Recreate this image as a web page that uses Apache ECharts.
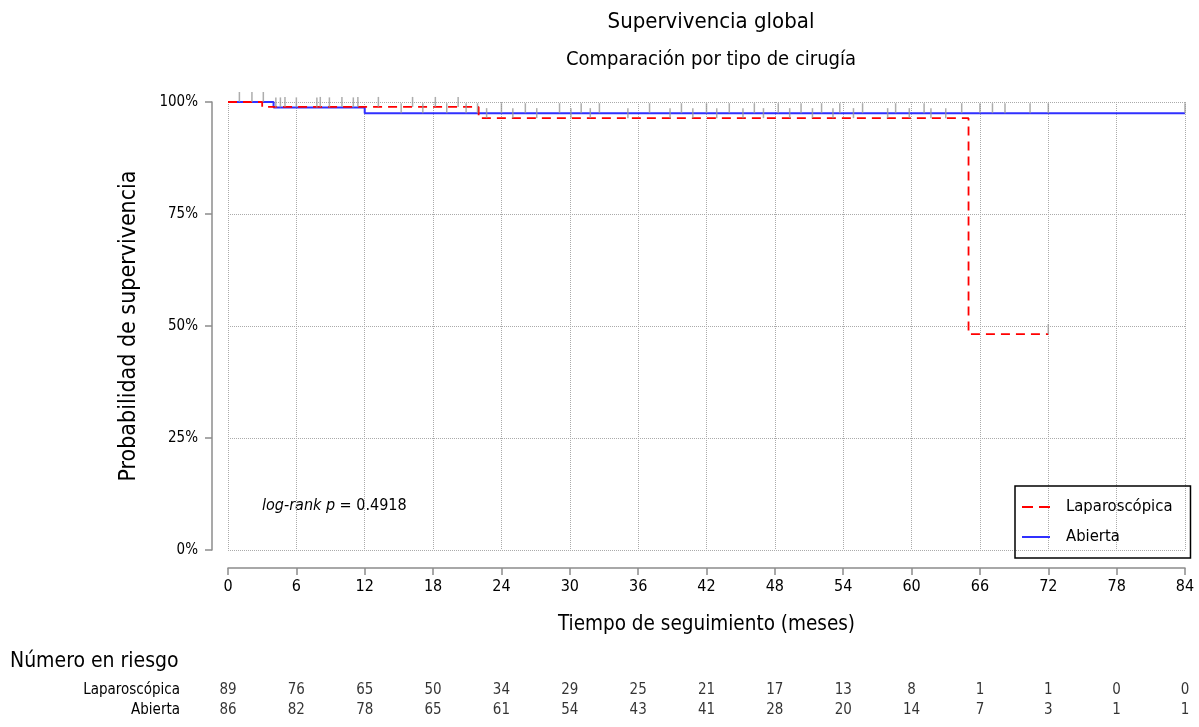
<!DOCTYPE html>
<html>
<head>
<meta charset="utf-8">
<script src="https://cdn.jsdelivr.net/npm/echarts@6/dist/echarts.min.js"></script>
<style>html,body{margin:0;padding:0;background:#fff}#c{width:1199px;height:727px}</style>
</head>
<body>
<div id="c"></div>
<script>
// ---- data ----
const groups = ['Laparoscópica', 'Abierta'];
const lapTimes = [0, 3, 22, 65, 72];
const lapSurv = [100, 98.9, 96.4, 48.2, 48.2];
const abTimes = [0, 4, 12, 84];
const abSurv = [100, 98.8, 97.5, 97.5];
const lapCensor = [1.0, 5.0, 8.1, 10.0, 11.4, 13.2, 16.2, 18.2, 20.2, 22.7, 25.0, 27.1, 30.1, 31.8, 35.1, 38.8, 40.8, 42.9, 45.2, 47.0, 49.3, 51.3, 53.1, 54.9, 57.9, 59.8, 61.7, 63.0, 72.0];
const abCensor = [2.1, 3.1, 4.2, 4.6, 6.0, 7.8, 8.9, 11.0, 15.2, 17.1, 19.2, 20.9, 21.9, 24.0, 26.1, 29.1, 31.0, 32.6, 37.0, 39.8, 42.0, 44.0, 46.2, 48.3, 50.3, 52.1, 53.7, 55.7, 58.6, 61.1, 64.4, 66.0, 67.1, 68.2, 70.4, 72.0, 84.0];
const riskTimes = [0, 6, 12, 18, 24, 30, 36, 42, 48, 54, 60, 66, 72, 78, 84];
const riskLap = [89, 76, 65, 50, 34, 29, 25, 21, 17, 13, 8, 1, 1, 0, 0];
const riskAb = [86, 82, 78, 65, 61, 54, 43, 41, 28, 20, 14, 7, 3, 1, 1];
const logRankP = '0.4918';

// ---- helpers ----
function survAt(times, vals, t) {
  let v = vals[0];
  for (let i = 0; i < times.length; i++) if (times[i] <= t) v = vals[i];
  return v;
}
const FONT = "'Liberation Sans Narrow', 'DejaVu Sans Condensed', 'Liberation Sans', sans-serif";
const AX = '#8c8c8c';
const RED = '#ff0000';
const BLUE = '#3030ff';

const chart = echarts.init(document.getElementById('c'));
chart.setOption({
  animation: false,
  backgroundColor: '#fff',
  textStyle: { fontFamily: FONT, color: '#000' },
  title: {
    text: 'Supervivencia global',
    subtext: 'Comparación por tipo de cirugía',
    left: 706, top: 6, textAlign: 'center', itemGap: 17,
    textStyle: { fontFamily: FONT, fontSize: 22, fontWeight: 'normal', color: '#000' },
    subtextStyle: { fontFamily: FONT, fontSize: 20, color: '#000' }
  },
  legend: {
    orient: 'vertical', left: 1015, top: 486,
    data: [
      { name: groups[0], icon: 'path://M0,0h11v2h-11z M17,0h11v2h-11z', itemStyle: { color: RED } },
      { name: groups[1], icon: 'path://M0,0h28v2h-28z', itemStyle: { color: BLUE } }
    ],
    itemWidth: 30, itemHeight: 2, itemGap: 10,
    padding: [11, 18, 11, 7],
    borderColor: '#000', borderWidth: 1.5,
    textStyle: { fontFamily: FONT, fontSize: 16.5, color: '#000', padding: [0, 0, 0, 10], lineHeight: 20 }
  },
  graphic: [
    { type: 'text', left: 10, top: 651, style: { text: 'Número en riesgo', font: '21px ' + FONT, fill: '#000' } },
    { type: 'text', left: 262, top: 498, style: {
        text: '{i|log-rank p} = ' + logRankP,
        rich: { i: { fontStyle: 'italic', fontSize: 16, fontFamily: FONT } },
        font: '16px ' + FONT, fill: '#000' } }
  ],
  grid: [
    { left: 228, right: 14, top: 102, bottom: 177 },
    { left: 228, right: 14, top: 680, height: 40 }
  ],
  xAxis: [
    {
      gridIndex: 0, type: 'value', min: 0, max: 84, interval: 6, offset: 18,
      name: 'Tiempo de seguimiento (meses)', nameLocation: 'middle', nameGap: 46,
      nameTextStyle: { fontFamily: FONT, fontSize: 20.5, color: '#000' },
      axisLine: { show: true, onZero: false, lineStyle: { color: AX, width: 1.5 } },
      axisTick: { show: true, length: 7, lineStyle: { color: AX, width: 1.5 } },
      axisLabel: { fontFamily: FONT, fontSize: 16, color: '#000', margin: 11 },
      splitLine: { show: true, lineStyle: { type: 'dotted', color: '#aaa', width: 1 } }
    },
    { gridIndex: 1, type: 'value', min: 0, max: 84, show: false }
  ],
  yAxis: [
    {
      gridIndex: 0, type: 'value', min: 0, max: 100, interval: 25, offset: 16,
      name: 'Probabilidad de supervivencia', nameLocation: 'middle', nameGap: 71,
      nameTextStyle: { fontFamily: FONT, fontSize: 23, color: '#000' },
      axisLine: { show: true, onZero: false, lineStyle: { color: AX, width: 1.5 } },
      axisTick: { show: true, length: 7, lineStyle: { color: AX, width: 1.5 } },
      axisLabel: { formatter: '{value}%', fontFamily: FONT, fontSize: 15, color: '#000', margin: 14 },
      splitLine: { show: true, lineStyle: { type: 'dotted', color: '#aaa', width: 1 } }
    },
    {
      gridIndex: 1, type: 'category', data: groups, inverse: true,
      axisLine: { show: false }, axisTick: { show: false }, splitLine: { show: false },
      axisLabel: { interval: 0, hideOverlap: false, fontFamily: FONT, fontSize: 15, color: '#000', margin: 48 }
    }
  ],
  series: [
    {
      name: groups[0], type: 'line', step: 'end', symbol: 'none', z: 3,
      data: lapTimes.map((t, i) => [t, lapSurv[i]]),
      lineStyle: { color: RED, width: 1.8, type: [9, 6] },
      itemStyle: { color: RED }
    },
    {
      name: groups[1], type: 'line', step: 'end', symbol: 'none', z: 2,
      data: abTimes.map((t, i) => [t, abSurv[i]]),
      lineStyle: { color: BLUE, width: 2 },
      itemStyle: { color: BLUE }
    },
    {
      type: 'scatter', symbol: 'rect', symbolSize: [1.5, 10], symbolOffset: [0, -5], z: 4,
      itemStyle: { color: '#999' }, silent: true,
      data: lapCensor.map(t => [t, survAt(lapTimes, lapSurv, t)])
    },
    {
      type: 'scatter', symbol: 'rect', symbolSize: [1.5, 10], symbolOffset: [0, -5], z: 4,
      itemStyle: { color: '#999' }, silent: true,
      data: abCensor.map(t => [t, survAt(abTimes, abSurv, t)])
    },
    {
      type: 'scatter', xAxisIndex: 1, yAxisIndex: 1, symbolSize: 0, silent: true,
      data: riskTimes.map((t, i) => [t, groups[0], riskLap[i]]).concat(riskTimes.map((t, i) => [t, groups[1], riskAb[i]])),
      label: { show: true, position: 'inside', formatter: p => String(p.value[2]), fontFamily: FONT, fontSize: 15, color: '#000' }
    }
  ]
});
</script>
</body>
</html>
